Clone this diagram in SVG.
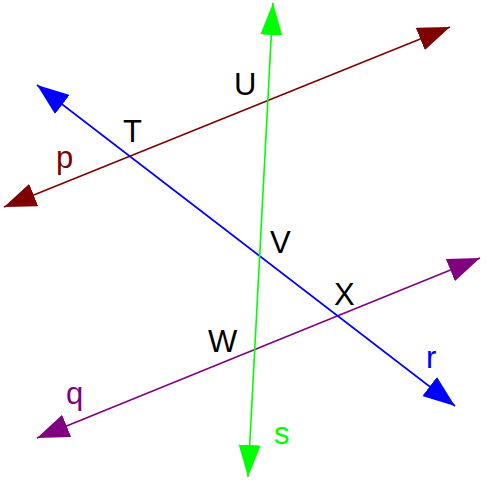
<svg xmlns="http://www.w3.org/2000/svg" width="486" height="480" viewBox="0 0 486 480">
<style>
.ln{fill:none;stroke-width:1.6}
.lb{font-family:"Liberation Sans",Arial,sans-serif;font-size:31px}
</style>
<defs>
<marker id="mp" markerUnits="userSpaceOnUse" viewBox="0 0 32 24" markerWidth="32" markerHeight="24" refX="32" refY="12" orient="auto-start-reverse"><path d="M0,0 L32,12 L0,24 Z" fill="#7f0000"/></marker>
<marker id="mq" markerUnits="userSpaceOnUse" viewBox="0 0 32 24" markerWidth="32" markerHeight="24" refX="32" refY="12" orient="auto-start-reverse"><path d="M0,0 L32,12 L0,24 Z" fill="#800080"/></marker>
<marker id="mr" markerUnits="userSpaceOnUse" viewBox="0 0 32 24" markerWidth="32" markerHeight="24" refX="32" refY="12" orient="auto-start-reverse"><path d="M0,0 L32,12 L0,24 Z" fill="#0000ff"/></marker>
<marker id="ms" markerUnits="userSpaceOnUse" viewBox="0 0 32 22" markerWidth="32" markerHeight="22" refX="32" refY="11" orient="auto-start-reverse"><path d="M0,0 L32,11 L0,22 Z" fill="#00ff00"/></marker>
</defs>
<g id="connectors">
<line id="line-p" class="ln" x1="4" y1="207" x2="450" y2="27" stroke="#7f0000" marker-start="url(#mp)" marker-end="url(#mp)"/>
<line id="line-q" class="ln" x1="37" y1="438" x2="480" y2="258" stroke="#800080" marker-start="url(#mq)" marker-end="url(#mq)"/>
<line id="line-r" class="ln" x1="37" y1="85" x2="455" y2="406" stroke="#0000ff" marker-start="url(#mr)" marker-end="url(#mr)"/>
<line id="line-s" class="ln" x1="273" y1="3" x2="248" y2="477" stroke="#00ff00" stroke-width="2" marker-start="url(#ms)" marker-end="url(#ms)"/>
</g>
<g id="labels">
<text class="lb" x="56" y="168" fill="#7f0000">p</text>
<text class="lb" x="66" y="404" fill="#800080">q</text>
<text class="lb" x="426" y="368" fill="#0000ff">r</text>
<text class="lb" x="274" y="444" fill="#00ff00">s</text>
<text class="lb" x="123" y="142" fill="#000">T</text>
<text class="lb" x="234" y="95" fill="#000">U</text>
<text class="lb" x="270" y="253" fill="#000">V</text>
<text class="lb" x="208" y="352" fill="#000">W</text>
<text class="lb" x="334" y="305" fill="#000">X</text>
</g>
</svg>
